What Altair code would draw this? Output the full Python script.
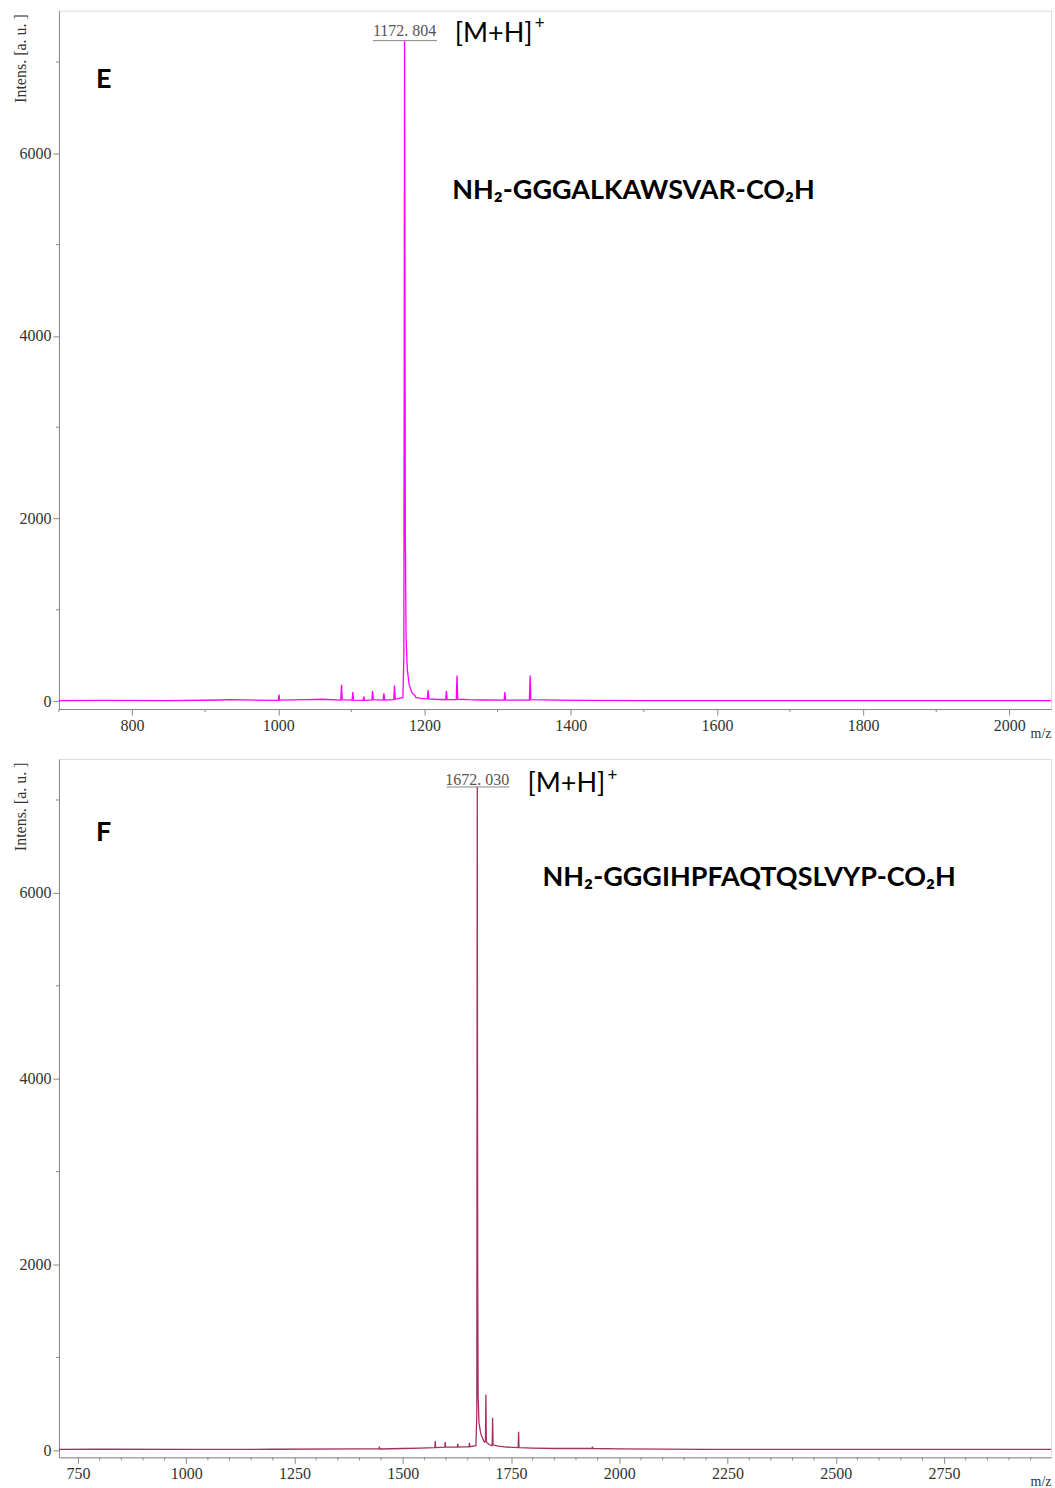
import altair as alt
import pandas as pd

# ---------------- Panel E data ----------------
mz_E = [700, 760, 850, 920, 935, 1000, 1001, 1002, 1040, 1060,
        1085.5, 1086.5, 1087.5, 1101, 1102, 1103, 1116, 1117, 1118,
        1128, 1129, 1130, 1143.5, 1144.5, 1145.5, 1158, 1159, 1160,
        1170.5, 1171.8, 1172.8, 1173.8, 1174.8, 1176.5, 1179, 1183, 1187, 1188,
        1195, 1204, 1205, 1206, 1215, 1229, 1230, 1231, 1243.5, 1244.5, 1245.5,
        1260, 1280, 1309, 1310, 1311, 1343.5, 1344.5, 1345.5, 1380, 1420,
        1500, 1600, 1800, 2057]
int_E = [5, 8, 6, 12, 15, 8, 70, 10, 15, 20,
         10, 180, 15, 10, 100, 10, 8, 50, 8,
         12, 110, 15, 10, 85, 12, 15, 170, 20,
         40, 500, 7235, 1800, 700, 350, 180, 90, 60, 40,
         30, 25, 120, 25, 20, 15, 110, 15, 15, 280, 20,
         15, 12, 10, 100, 10, 10, 280, 15, 10, 8,
         5, 6, 5, 5]

# ---------------- Panel F data ----------------
mz_F = [706, 800, 1000, 1200, 1400, 1445, 1446, 1447, 1500, 1540,
        1574, 1575, 1576, 1597, 1598, 1599, 1626, 1627, 1628, 1653, 1654, 1655,
        1669, 1671, 1672.03, 1673, 1674, 1676, 1680, 1688, 1691, 1692, 1693,
        1700, 1706.5, 1707.5, 1708.5, 1720, 1740, 1766.5, 1767.5, 1768.5,
        1800, 1850, 1937, 1938, 1939, 2000, 2200, 2500, 2750, 2997]
int_F = [10, 12, 10, 12, 15, 15, 40, 15, 20, 25,
         30, 100, 30, 35, 90, 35, 35, 70, 35, 40, 80, 40,
         50, 400, 7140, 2000, 600, 300, 180, 90, 100, 600, 90,
         60, 50, 350, 60, 45, 35, 30, 200, 30,
         25, 20, 20, 40, 20, 15, 10, 10, 10, 10]

# ---------------- Axis tick values ----------------
x_major_E = [800, 1000, 1200, 1400, 1600, 1800, 2000]
x_minor_E = [700, 900, 1100, 1300, 1500, 1700, 1900]
x_major_F = [750, 1000, 1250, 1500, 1750, 2000, 2250, 2500, 2750]
x_minor_F = [800, 850, 900, 950, 1050, 1100, 1150, 1200, 1300, 1350, 1400, 1450,
             1550, 1600, 1650, 1700, 1800, 1850, 1900, 1950, 2050, 2100, 2150, 2200,
             2300, 2350, 2400, 2450, 2550, 2600, 2650, 2700, 2800, 2850, 2900, 2950]
y_major = [0, 2000, 4000, 6000]
y_minor = [1000, 3000, 5000, 7000]

# ---------------- Annotations ----------------
panels = ["E", "F"]
peak_label = ["1172. 804", "1672. 030"]
peak_mz = [1172.8, 1672.0]
peak_label_y = [7340, 7212]
underline_x1 = [1129.5, 1601]
underline_x2 = [1217, 1746.5]
underline_y = [7235, 7140]
ion_text = ["[M+H]", "[M+H]"]
ion_mz = [1241.4, 1788]
ion_y = [7311, 7172]
plus_mz = [1357.6, 1984]
plus_y = [7421, 7258]
peptide = ["NH\u2082-GGGALKAWSVAR-CO\u2082H", "NH\u2082-GGGIHPFAQTQSLVYP-CO\u2082H"]
peptide_mz = [1486, 2300]
peptide_y = [5585, 6165]
letter_mz = [750.8, 791.5]
letter_y = [6809, 6645]

x_domains = [[700, 2057], [706, 2997]]
y_domains = [[-87, 7563], [-75, 7441]]
line_colors = ["#ff00ff", "#a3305f"]

SERIF = "Liberation Serif"
SANS = "Lato"
W, H = 993, 699


def panel(i, mz, inten, x_major, x_minor):
    spec = pd.DataFrame({"mz": mz, "intensity": inten})
    xscale = alt.Scale(domain=x_domains[i], nice=False, zero=False)
    yscale = alt.Scale(domain=y_domains[i], nice=False, zero=False)

    xaxis = alt.Axis(
        values=x_major, grid=False, labelFont=SERIF, labelFontSize=16, labelColor="#333",
        format="d", tickSize=6, tickColor="#888", domainColor="#888", labelPadding=2,
        labelOverlap=False, labelFlush=False,
        title="m/z", titleFont=SERIF, titleFontSize=14, titleFontWeight="normal",
        titleColor="#333", titleX=W, titleY=24, titleAlign="right", titleBaseline="middle",
    )
    yaxis = alt.Axis(
        values=y_major, grid=False, labelFont=SERIF, labelFontSize=16, labelColor="#333",
        format="d", tickSize=6, tickColor="#888", domainColor="#888", labelPadding=2,
        labelOverlap=False,
        title="Intens.   [a.  u.  ]", titleFont=SERIF, titleFontSize=16, titleFontWeight="normal",
        titleColor="#333", titleAngle=270, titleX=-38, titleY=3, titleAlign="right",
        titleBaseline="middle",
    )

    line = alt.Chart(spec).mark_line(color=line_colors[i], strokeWidth=1.3, clip=True).encode(
        x=alt.X("mz:Q", scale=xscale, axis=xaxis),
        y=alt.Y("intensity:Q", scale=yscale, axis=yaxis),
    )

    one = lambda d: pd.DataFrame(d)

    xminor = alt.Chart(one({"v": x_minor})).mark_rule(color="#888", strokeWidth=1).encode(
        x=alt.X("v:Q", scale=xscale), y=alt.value(H), y2=alt.value(H + 3))
    yminor = alt.Chart(one({"v": y_minor})).mark_rule(color="#888", strokeWidth=1).encode(
        y=alt.Y("v:Q", scale=yscale), x=alt.value(0), x2=alt.value(-3))

    ul = alt.Chart(one({"x1": [underline_x1[i]], "x2": [underline_x2[i]], "y": [underline_y[i]]})).mark_rule(
        color="#888", strokeWidth=1).encode(
        x=alt.X("x1:Q", scale=xscale), x2="x2:Q", y=alt.Y("y:Q", scale=yscale))

    lab = alt.Chart(one({"x": [peak_mz[i]], "y": [peak_label_y[i]], "t": [peak_label[i]]})).mark_text(
        font=SERIF, fontSize=16, color="#555", align="center", baseline="middle").encode(
        x=alt.X("x:Q", scale=xscale), y=alt.Y("y:Q", scale=yscale), text="t:N")

    ion = alt.Chart(one({"x": [ion_mz[i]], "y": [ion_y[i]], "t": [ion_text[i]]})).mark_text(
        font=SANS, fontSize=27, color="#000", align="left", baseline="middle").encode(
        x=alt.X("x:Q", scale=xscale), y=alt.Y("y:Q", scale=yscale), text="t:N")

    plus = alt.Chart(one({"x": [plus_mz[i]], "y": [plus_y[i]], "t": ["+"]})).mark_text(
        font=SANS, fontSize=17, color="#000", align="center", baseline="middle").encode(
        x=alt.X("x:Q", scale=xscale), y=alt.Y("y:Q", scale=yscale), text="t:N")

    pep = alt.Chart(one({"x": [peptide_mz[i]], "y": [peptide_y[i]], "t": [peptide[i]]})).mark_text(
        font=SANS, fontSize=27, fontWeight="bold", color="#000", align="center", baseline="middle").encode(
        x=alt.X("x:Q", scale=xscale), y=alt.Y("y:Q", scale=yscale), text="t:N")

    let = alt.Chart(one({"x": [letter_mz[i]], "y": [letter_y[i]], "t": [panels[i]]})).mark_text(
        font=SANS, fontSize=27, fontWeight="bold", color="#000", align="left", baseline="middle").encode(
        x=alt.X("x:Q", scale=xscale), y=alt.Y("y:Q", scale=yscale), text="t:N")

    return alt.layer(line, xminor, yminor, ul, lab, ion, plus, pep, let).properties(width=W, height=H)


chart = alt.vconcat(
    panel(0, mz_E, int_E, x_major_E, x_minor_E),
    panel(1, mz_F, int_F, x_major_F, x_minor_F),
    spacing=50, bounds="flush",
).configure_view(stroke="#888", strokeWidth=1).configure(background="white").properties(
    padding={"left": 12, "top": 9, "right": 3, "bottom": 5}
)

chart.save("out.html", embed_options={"renderer": "svg", "actions": False})
